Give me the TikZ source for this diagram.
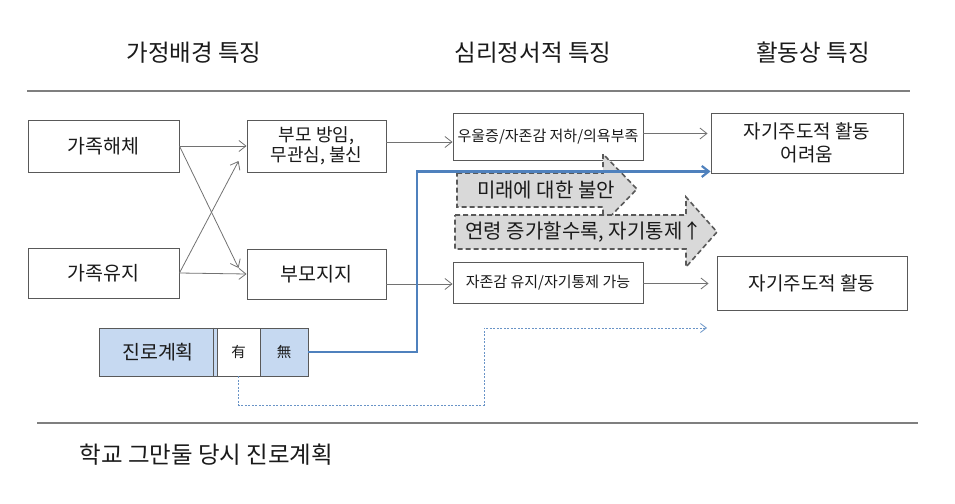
\documentclass[tikz,border=0pt]{standalone}
\usepackage{fontspec}
\setmainfont{Noto Sans CJK KR}
\usetikzlibrary{arrows.meta,calc}
\definecolor{boxline}{HTML}{595959}
\definecolor{lblue}{HTML}{C6D9F1}
\definecolor{mblue}{HTML}{4F81BD}
\definecolor{gfill}{HTML}{D9D9D9}
\definecolor{gdash}{HTML}{595959}
\definecolor{txt}{HTML}{1A1A1A}
\definecolor{sepc}{HTML}{7F7F7F}
\begin{document}
\begin{tikzpicture}[x=1pt,y=-1pt,
  box/.style={draw=boxline, line width=0.9pt, fill=white, inner sep=0pt, text=txt, align=center},
  fbig/.style={font=\fontsize{23.5}{28}\selectfont},
  fmid/.style={font=\fontsize{19.5}{23}\selectfont},
  fea/.style={font=\fontsize{19}{23}\selectfont},
  farr/.style={font=\fontsize{20}{24}\selectfont},
  fsm/.style={font=\fontsize{18}{20}\selectfont},
  ftiny/.style={font=\fontsize{15}{18}\selectfont},
  fhan/.style={font=\fontsize{14.5}{18}\selectfont},
  arr/.style={draw=boxline!85, line width=0.8pt, -{Straight Barb[length=7pt,width=11pt]}},
  bline/.style={draw=mblue, line width=2.2pt, -{Straight Barb[length=7pt,width=11pt]}},
  dline/.style={draw=mblue!85, line width=0.8pt, dash pattern=on 2pt off 1.5pt, -{Straight Barb[length=6pt,width=9pt]}},
  garrow/.style={draw=gdash, line width=1.6pt, dash pattern=on 5pt off 3pt, fill=gfill},
  sepline/.style={draw=sepc, line width=1.8pt}
]
\useasboundingbox (0,0) rectangle (955,503);

% headers
\node[fbig, text=txt] (h1) at (194,53) {가정배경 특징};
\node[fbig, text=txt] (h2) at (533,53) {심리정서적 특징};
\node[fbig, text=txt] (h3) at (813,53) {활동상 특징};
\coordinate (t1) at (27,91);
\coordinate (t2) at (910,91);
\draw[sepline] (t1) -- (t2);

% boxes
\node[box, fmid, minimum width=151pt, minimum height=52pt] (jh) at (103.5,146) {가족해체};
\node[box, fmid, minimum width=151pt, minimum height=50pt] (jy) at (103.5,273) {가족유지};
\node[box, fsm, minimum width=139pt, minimum height=52pt] (bmb) at (316.5,146) {부모 방임,\\무관심, 불신};
\node[box, fmid, minimum width=139pt, minimum height=50pt] (bmj) at (316.5,274) {부모지지};
\node[box, ftiny, minimum width=190pt, minimum height=47pt] (ud) at (548,136.5) {우울증/자존감 저하/의욕부족};
\node[box, fea, minimum width=192pt, minimum height=60pt] (ea) at (807,143) {자기주도적 활동\\어려움};
\node[box, ftiny, minimum width=190pt, minimum height=41pt] (ja) at (548,282.5) {자존감 유지/자기통제 가능};
\node[box, fea, minimum width=190pt, minimum height=54pt] (ka) at (812,283) {자기주도적 활동};

% career plan
\node[box, fmid, fill=lblue, minimum width=118pt, minimum height=48pt] (jr) at (158,352) {진로계획};
\draw[draw=boxline, line width=0.9pt] ([xshift=-4pt]jr.north east) -- ([xshift=-4pt]jr.south east);
\node[box, fhan, minimum width=43pt, minimum height=48pt] (yu) at (238.5,352) {有};
\node[box, fhan, fill=lblue, minimum width=48pt, minimum height=48pt] (mu) at (284,352) {無};

% black arrows
\draw[arr] (jh.east) -- (bmb.west);
\draw[arr] (jy.east) -- (bmj.west);
\draw[arr] (jh.east) -- ($(bmj.west)+(-8,-6)$);
\draw[arr] (jy.east) -- ($(bmb.west)+(-8,15)$);
\draw[arr] ([yshift=4pt]bmb.east) -- ([yshift=4pt]bmb.east -| ud.west);
\draw[arr, shorten >=3pt] ([yshift=3pt]ud.east) -- ([yshift=3pt]ud.east -| ea.west);
\draw[arr] ([yshift=-10pt]bmj.east) -- ([yshift=-10pt]bmj.east -| ja.west);
\draw[arr, shorten >=8pt] ([yshift=-1pt]ja.east) -- ([yshift=-1pt]ja.east -| ka.west);

% gray dashed block arrows
\draw[garrow] (457,173) -- (603,173) -- (603,154) -- (637,189) -- (603,224) -- (603,207) -- (457,207) -- cycle;
\node[farr, text=txt] (fut) at (546,190) {미래에 대한 불안};
\draw[garrow] (455,215) -- (686,215) -- (686,197) -- (717,232) -- (686,267) -- (686,249) -- (455,249) -- cycle;
\node[farr, text=txt] (age) at (584,232) {연령 증가할수록, 자기통제↑};

% blue line
\coordinate (bturn) at (417,352);
\draw[bline] (mu.east) -- (bturn) |- ([yshift=2pt]ea.south west);

% dashed blue line
\coordinate (dlow) at (484,405);
\coordinate (dend) at (707,328);
\draw[dline] (yu.south) |- (dlow) |- (dend);

% bottom
\coordinate (b1) at (37,423);
\coordinate (b2) at (918,423);
\draw[sepline] (b1) -- (b2);
\node[fbig, text=txt, anchor=west] (bt) at (76,455) {학교 그만둘 당시 진로계획};
\end{tikzpicture}
\end{document}
